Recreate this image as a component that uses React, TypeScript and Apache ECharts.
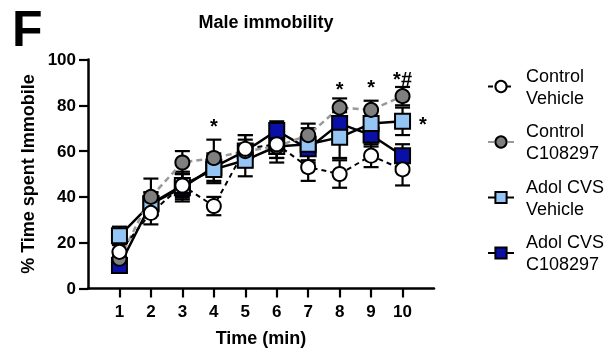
import React, { useEffect, useRef } from "react";
import * as echarts from "echarts";

const times = [1, 2, 3, 4, 5, 6, 7, 8, 9, 10];
const ctrlVeh = [16, 33, 45, 36, 61, 63, 53, 50, 58, 52];
const ctrlVehSem = [3, 5, 5, 4, 6, 6, 6, 6, 5, 7];
const ctrlC = [13, 40, 55, 57, 60, 62, 67, 79, 78, 84];
const ctrlCSem = [3, 8, 5, 8, 5, 5, 5, 4, 4, 4];
const adolVeh = [23, 37, 45, 52, 56, 62, 63, 66, 72, 73];
const adolVehSem = [4, 5, 6, 6, 7, 7, 7, 9, 6, 6];
const adolC = [10, 37, 44, 53, 60, 69, 61, 72, 67, 58];
const adolCSem = [3, 5, 6, 6, 7, 4, 6, 5, 5, 5];
const yTicks = [0, 20, 40, 60, 80, 100];
const annotations: [number, number, string][] = [
  [4, 71, "*"],
  [8, 87, "*"],
  [9, 88, "*"],
  [10, 91.5, "*#"],
  [10.65, 72, "*"],
];

const FONT = "'Liberation Sans', Arial, sans-serif";

function errSeries(vals: number[], sems: number[]) {
  return {
    type: "custom",
    silent: true,
    encode: { x: 0, y: 1 },
    data: times.map((t, i) => [t, vals[i], sems[i]]),
    renderItem: (params: any, api: any) => {
      const x = api.value(0);
      const m = api.value(1);
      const s = api.value(2);
      const top = api.coord([x, m + s]);
      const bot = api.coord([x, m - s]);
      const hw = 7.5;
      const st = { stroke: "#000", lineWidth: 2.2 };
      return {
        type: "group",
        children: [
          { type: "line", shape: { x1: top[0], y1: top[1], x2: bot[0], y2: bot[1] }, style: st },
          { type: "line", shape: { x1: top[0] - hw, y1: top[1], x2: top[0] + hw, y2: top[1] }, style: st },
          { type: "line", shape: { x1: bot[0] - hw, y1: bot[1], x2: bot[0] + hw, y2: bot[1] }, style: st },
        ],
      };
    },
  };
}

function lineSeries(name: string, vals: number[], symbol: string, size: number, fill: string, lineColor: string, lineType: any, lw: number) {
  return {
    type: "line",
    name,
    data: times.map((t, i) => [t, vals[i]]),
    symbol,
    symbolSize: size,
    showSymbol: true,
    itemStyle: { color: fill, borderColor: "#000", borderWidth: 2 },
    lineStyle: { color: lineColor, width: lw, type: lineType },
    emphasis: { disabled: true },
  };
}

export default function App() {
  const ref = useRef<HTMLDivElement>(null);
  useEffect(() => {
    const chart = echarts.init(ref.current!, undefined, { renderer: "svg" });
    const option: any = {
      animation: false,
      textStyle: { fontFamily: FONT },
      grid: { left: 88, right: 174, top: 59.5, bottom: 72.5, outerBoundsMode: "none" },
      xAxis: {
        type: "value",
        min: 0,
        max: 11,
        interval: 1,
        name: "Time (min)",
        nameLocation: "middle",
        nameGap: 40,
        nameTextStyle: { fontSize: 18, fontWeight: "bold", color: "#000", fontFamily: FONT },
        axisLine: { lineStyle: { color: "#000", width: 2.5 } },
        axisTick: { show: true, length: 9, lineStyle: { color: "#000", width: 2.2 }, customValues: times },
        axisLabel: { customValues: times, margin: 14, fontSize: 17, fontWeight: "bold", color: "#000", fontFamily: FONT },
        splitLine: { show: false },
      },
      yAxis: {
        type: "value",
        min: 0,
        max: 100,
        interval: 20,
        name: "% Time spent Immobile",
        nameLocation: "middle",
        nameGap: 47,
        nameTextStyle: { fontSize: 18, fontWeight: "bold", color: "#000", fontFamily: FONT },
        axisLine: { show: true, lineStyle: { color: "#000", width: 2.5 } },
        axisTick: { show: true, length: 9, lineStyle: { color: "#000", width: 2.2 }, customValues: yTicks },
        axisLabel: { customValues: yTicks, margin: 12, fontSize: 17, fontWeight: "bold", color: "#000", fontFamily: FONT },
        splitLine: { show: false },
      },
      legend: {
        orient: "vertical",
        left: 487,
        top: 63,
        padding: 0,
        itemWidth: 26,
        itemHeight: 14,
        itemGap: 8.5,
        data: ["Control Vehicle", "Control C108297", "Adol CVS Vehicle", "Adol CVS C108297"],
        formatter: (n: string) => {
          const k = n.lastIndexOf(" ");
          return n.slice(0, k) + "\n" + n.slice(k + 1);
        },
        textStyle: { fontSize: 18, lineHeight: 22, color: "#000", fontFamily: FONT, padding: [0, 0, 3, 7] },
        selectedMode: false,
      },
      graphic: [
        { type: "text", x: 12, y: 28.5, style: { text: "F", font: `bold 50px ${FONT}`, fill: "#000", verticalAlign: "middle" } },
        { type: "text", x: 266, y: 22, style: { text: "Male immobility", font: `bold 18px ${FONT}`, fill: "#000", align: "center", verticalAlign: "middle" } },
      ],
      series: [
        errSeries(adolC, adolCSem),
        lineSeries("Adol CVS C108297", adolC, "rect", 15, "#0A0FA8", "#000", "solid", 2.5),
        errSeries(adolVeh, adolVehSem),
        lineSeries("Adol CVS Vehicle", adolVeh, "rect", 15, "#94C6F5", "#000", "solid", 2.5),
        errSeries(ctrlC, ctrlCSem),
        lineSeries("Control C108297", ctrlC, "circle", 14, "#7F7F7F", "#999999", [6, 4], 2.5),
        errSeries(ctrlVeh, ctrlVehSem),
        lineSeries("Control Vehicle", ctrlVeh, "circle", 14, "#FFFFFF", "#000", [5, 4], 2),
        {
          type: "custom",
          silent: true,
          encode: { x: 0, y: 1 },
          data: annotations,
          renderItem: (params: any, api: any) => {
            const p = api.coord([api.value(0), api.value(1)]);
            const txt = annotations[params.dataIndex][2];
            return {
              type: "text",
              x: p[0],
              y: p[1],
              style: { text: txt, font: `bold 20px ${FONT}`, fill: "#000", align: "center", verticalAlign: "middle" },
            };
          },
        },
      ],
    };
    chart.setOption(option);
    return () => chart.dispose();
  }, []);
  return <div ref={ref} style={{ position: "fixed", left: 0, top: 0, width: 608, height: 361 }} />;
}
